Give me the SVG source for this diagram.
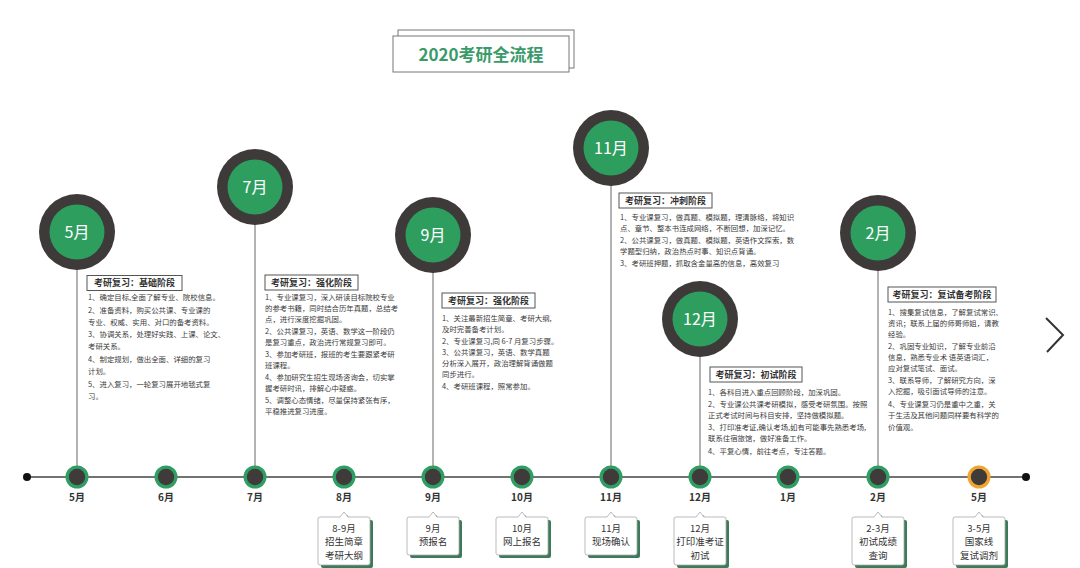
<svg xmlns="http://www.w3.org/2000/svg" width="1080" height="568" viewBox="0 0 1080 568">
<defs>
<style>
text{font-family:"Noto Sans CJK SC","Noto Sans",sans-serif;}
.body{font-size:7.4px;fill:#3a3a3a;}
.head{font-size:9px;font-weight:bold;fill:#333;text-anchor:middle;}
.hbox{fill:#fff;stroke:#555;stroke-width:1;}
.big-o{fill:#3d3a39;}
.big-i{fill:#2e9e5f;}
.big-t{font-size:16px;fill:#fff;text-anchor:middle;}
.conn{stroke:#666;stroke-width:1;fill:none;}
.node-o{fill:#2f9e63;}
.node-i{fill:#3f3b3a;}
.tl{font-size:10px;font-weight:bold;fill:#333;text-anchor:middle;}
.cb{fill:#fff;stroke:#aaa;stroke-width:0.8;}
.cs{fill:#3d7a5a;}
.ct{font-size:9.5px;fill:#333;text-anchor:middle;}
</style>
<path id="c3" d="M-24,517 H-4 L0,512 L4,517 H24 Q26,517 26,519 V563 Q26,565 24,565 H-24 Q-26,565 -26,563 V519 Q-26,517 -24,517 Z"/>
<path id="c2" d="M-24,517 H-4 L0,512 L4,517 H24 Q26,517 26,519 V553 Q26,555 24,555 H-24 Q-26,555 -26,553 V519 Q-26,517 -24,517 Z"/>
</defs>
<rect width="1080" height="568" fill="#fff"/>

<g id="title">
<rect x="398" y="30" width="176" height="38" fill="#fff" stroke="#777" stroke-width="1"/>
<rect x="393" y="36" width="176" height="36" fill="#fff" stroke="#777" stroke-width="1"/>
<text x="481" y="61" font-size="17" font-weight="bold" fill="#3a9a6a" text-anchor="middle">2020考研全流程</text>
</g>

<g id="connectors">
<line x1="27" y1="477" x2="1026" y2="477" stroke="#444" stroke-width="1.4"/>
<line class="conn" x1="77" y1="268" x2="77" y2="466"/>
<line class="conn" x1="255" y1="223" x2="255" y2="466"/>
<line class="conn" x1="433" y1="271" x2="433" y2="466"/>
<line class="conn" x1="611" y1="184" x2="611" y2="466"/>
<line class="conn" x1="700" y1="355" x2="700" y2="466"/>
<line class="conn" x1="878" y1="269" x2="878" y2="466"/>
<circle cx="27" cy="477" r="4" fill="#111"/>
<circle cx="1026" cy="477" r="4" fill="#111"/>
</g>

<g id="timeline-nodes">
<g id="n1"><circle class="node-o" cx="77" cy="477" r="11.5"/><circle class="node-i" cx="77" cy="477" r="8.2"/><text class="tl" x="77" y="501">5月</text></g>
<g id="n2"><circle class="node-o" cx="166" cy="477" r="11.5"/><circle class="node-i" cx="166" cy="477" r="8.2"/><text class="tl" x="166" y="501">6月</text></g>
<g id="n3"><circle class="node-o" cx="255" cy="477" r="11.5"/><circle class="node-i" cx="255" cy="477" r="8.2"/><text class="tl" x="255" y="501">7月</text></g>
<g id="n4"><circle class="node-o" cx="344" cy="477" r="11.5"/><circle class="node-i" cx="344" cy="477" r="8.2"/><text class="tl" x="344" y="501">8月</text></g>
<g id="n5"><circle class="node-o" cx="433" cy="477" r="11.5"/><circle class="node-i" cx="433" cy="477" r="8.2"/><text class="tl" x="433" y="501">9月</text></g>
<g id="n6"><circle class="node-o" cx="522" cy="477" r="11.5"/><circle class="node-i" cx="522" cy="477" r="8.2"/><text class="tl" x="522" y="501">10月</text></g>
<g id="n7"><circle class="node-o" cx="611" cy="477" r="11.5"/><circle class="node-i" cx="611" cy="477" r="8.2"/><text class="tl" x="611" y="501">11月</text></g>
<g id="n8"><circle class="node-o" cx="700" cy="477" r="11.5"/><circle class="node-i" cx="700" cy="477" r="8.2"/><text class="tl" x="700" y="501">12月</text></g>
<g id="n9"><circle class="node-o" cx="788" cy="477" r="11.5"/><circle class="node-i" cx="788" cy="477" r="8.2"/><text class="tl" x="788" y="501">1月</text></g>
<g id="n10"><circle class="node-o" cx="878" cy="477" r="11.5"/><circle class="node-i" cx="878" cy="477" r="8.2"/><text class="tl" x="878" y="501">2月</text></g>
<g id="n11"><circle cx="979" cy="477" r="11.5" fill="#f2a52e"/><circle class="node-i" cx="979" cy="477" r="8.2"/><text class="tl" x="979" y="501">5月</text></g>
</g>

<g id="callouts">
<g id="cb8" transform="translate(344,0)"><use href="#c3" class="cs" transform="translate(3,3)"/><use href="#c3" class="cb"/><text class="ct" x="0" y="531.5">8-9月</text><text class="ct" x="0" y="545">招生简章</text><text class="ct" x="0" y="558.5">考研大纲</text></g>
<g id="cb9" transform="translate(433,0)"><use href="#c2" class="cs" transform="translate(3,3)"/><use href="#c2" class="cb"/><text class="ct" x="0" y="531.5">9月</text><text class="ct" x="0" y="545">预报名</text></g>
<g id="cb10" transform="translate(522,0)"><use href="#c2" class="cs" transform="translate(3,3)"/><use href="#c2" class="cb"/><text class="ct" x="0" y="531.5">10月</text><text class="ct" x="0" y="545">网上报名</text></g>
<g id="cb11" transform="translate(611,0)"><use href="#c2" class="cs" transform="translate(3,3)"/><use href="#c2" class="cb"/><text class="ct" x="0" y="531.5">11月</text><text class="ct" x="0" y="545">现场确认</text></g>
<g id="cb12" transform="translate(700,0)"><use href="#c3" class="cs" transform="translate(3,3)"/><use href="#c3" class="cb"/><text class="ct" x="0" y="531.5">12月</text><text class="ct" x="0" y="545">打印准考证</text><text class="ct" x="0" y="558.5">初试</text></g>
<g id="cb2" transform="translate(878,0)"><use href="#c3" class="cs" transform="translate(3,3)"/><use href="#c3" class="cb"/><text class="ct" x="0" y="531.5">2-3月</text><text class="ct" x="0" y="545">初试成绩</text><text class="ct" x="0" y="558.5">查询</text></g>
<g id="cb5" transform="translate(979,0)"><use href="#c3" class="cs" transform="translate(3,3)"/><use href="#c3" class="cb"/><text class="ct" x="0" y="531.5">3-5月</text><text class="ct" x="0" y="545">国家线</text><text class="ct" x="0" y="558.5">复试调剂</text></g>
</g>

<g id="stage-may">
<circle class="big-o" cx="77" cy="232" r="38"/><circle class="big-i" cx="77" cy="232" r="27.5"/><text class="big-t" x="77" y="238">5月</text>
<rect class="hbox" x="87" y="275.5" width="95" height="15"/><text class="head" x="134.5" y="286.3">考研复习：基础阶段</text>
<text class="body" x="88" y="300">1、确定目标,全面了解专业、院校信息。</text>
<text class="body" x="88" y="312.5">2、准备资料，购买公共课、专业课的</text>
<text class="body" x="88" y="324.5">专业、权威、实用、对口的备考资料。</text>
<text class="body" x="88" y="337">3、协调关系，处理好实践、上课、论文、</text>
<text class="body" x="88" y="349">考研关系。</text>
<text class="body" x="88" y="362">4、制定规划，做出全面、详细的复习</text>
<text class="body" x="88" y="374">计划。</text>
<text class="body" x="88" y="386.5">5、进入复习，一轮复习展开地毯式复</text>
<text class="body" x="88" y="398.5">习。</text>
</g>

<g id="stage-jul">
<circle class="big-o" cx="255" cy="187" r="38"/><circle class="big-i" cx="255" cy="187" r="27.5"/><text class="big-t" x="255" y="193">7月</text>
<rect class="hbox" x="265" y="275" width="93" height="15"/><text class="head" x="311.5" y="285.8">考研复习：强化阶段</text>
<text class="body" x="265" y="300">1、专业课复习，深入研读目标院校专业</text>
<text class="body" x="265" y="311">的参考书籍，同时结合历年真题，总结考</text>
<text class="body" x="265" y="322">点，进行深度挖掘巩固。</text>
<text class="body" x="265" y="334">2、公共课复习，英语、数学这一阶段仍</text>
<text class="body" x="265" y="345">是复习重点，政治进行常规复习即可。</text>
<text class="body" x="265" y="357">3、参加考研班，报班的考生要跟紧考研</text>
<text class="body" x="265" y="368">班课程。</text>
<text class="body" x="265" y="380">4、参加研究生招生现场咨询会，切实掌</text>
<text class="body" x="265" y="391">握考研时讯，排解心中疑惑。</text>
<text class="body" x="265" y="403">5、调整心态情绪，尽量保持紧张有序，</text>
<text class="body" x="265" y="414">平稳推进复习进度。</text>
</g>

<g id="stage-sep">
<circle class="big-o" cx="433" cy="235" r="38"/><circle class="big-i" cx="433" cy="235" r="27.5"/><text class="big-t" x="433" y="241">9月</text>
<rect class="hbox" x="442" y="293" width="93" height="15"/><text class="head" x="488.5" y="303.8">考研复习：强化阶段</text>
<text class="body" x="442" y="321">1、关注最新招生简章、考研大纲,</text>
<text class="body" x="442" y="332">及时完善备考计划。</text>
<text class="body" x="442" y="343.5">2、专业课复习,同 6-7 月复习步骤。</text>
<text class="body" x="442" y="355">3、公共课复习，英语、数学真题</text>
<text class="body" x="442" y="366">分析深入展开，政治理解背诵做题</text>
<text class="body" x="442" y="377">同步进行。</text>
<text class="body" x="442" y="388.5">4、考研班课程，照常参加。</text>
</g>

<g id="stage-nov">
<circle class="big-o" cx="611" cy="148" r="38"/><circle class="big-i" cx="611" cy="148" r="27.5"/><text class="big-t" x="611" y="154">11月</text>
<rect class="hbox" x="619" y="193" width="93" height="15"/><text class="head" x="665.5" y="203.8">考研复习：冲刺阶段</text>
<text class="body" x="620" y="220">1、专业课复习，做真题、模拟题，理清脉络，将知识</text>
<text class="body" x="620" y="231">点、章节、整本书连成网络，不断回想，加深记忆。</text>
<text class="body" x="620" y="243">2、公共课复习，做真题、模拟题，英语作文探索，数</text>
<text class="body" x="620" y="254">学题型归纳，政治热点时事、知识点背诵。</text>
<text class="body" x="620" y="266">3、考研班押题，抓取含金量高的信息，高效复习</text>
</g>

<g id="stage-dec">
<circle class="big-o" cx="700" cy="319" r="38"/><circle class="big-i" cx="700" cy="319" r="27.5"/><text class="big-t" x="700" y="325">12月</text>
<rect class="hbox" x="710" y="367" width="92" height="15"/><text class="head" x="756" y="377.8">考研复习：初试阶段</text>
<text class="body" x="708" y="394.5">1、各科目进入重点回顾阶段，加深巩固。</text>
<text class="body" x="708" y="406.5">2、专业课公共课考研模拟，感受考研氛围。按照</text>
<text class="body" x="708" y="417.5">正式考试时间与科目安排，坚持做模拟题。</text>
<text class="body" x="708" y="430">3、打印准考证,确认考场,如有可能事先熟悉考场,</text>
<text class="body" x="708" y="441">联系住宿旅馆，做好准备工作。</text>
<text class="body" x="708" y="454">4、平复心情，前往考点，专注答题。</text>
</g>

<g id="stage-feb">
<circle class="big-o" cx="878" cy="233" r="38"/><circle class="big-i" cx="878" cy="233" r="27.5"/><text class="big-t" x="878" y="239">2月</text>
<rect class="hbox" x="888" y="287" width="108" height="15"/><text class="head" x="942" y="297.8">考研复习：复试备考阶段</text>
<text class="body" x="888" y="315">1、搜集复试信息，了解复试常识、</text>
<text class="body" x="888" y="326">资讯；联系上届的师哥师姐，请教</text>
<text class="body" x="888" y="337">经验。</text>
<text class="body" x="888" y="349">2、巩固专业知识，了解专业前沿</text>
<text class="body" x="888" y="360">信息，熟悉专业术 语英语词汇，</text>
<text class="body" x="888" y="371">应对复试笔试、面试。</text>
<text class="body" x="888" y="383">3、联系导师，了解研究方向，深</text>
<text class="body" x="888" y="394">入挖掘，吸引面试导师的注意。</text>
<text class="body" x="888" y="406.5">4、专业课复习仍是重中之重，关</text>
<text class="body" x="888" y="418">于生活及其他问题同样要有科学的</text>
<text class="body" x="888" y="429.5">价值观。</text>
</g>

<g id="next-arrow">
<polyline points="1046,318 1063,335 1047,352" fill="none" stroke="#333" stroke-width="2"/>
</g>
</svg>
